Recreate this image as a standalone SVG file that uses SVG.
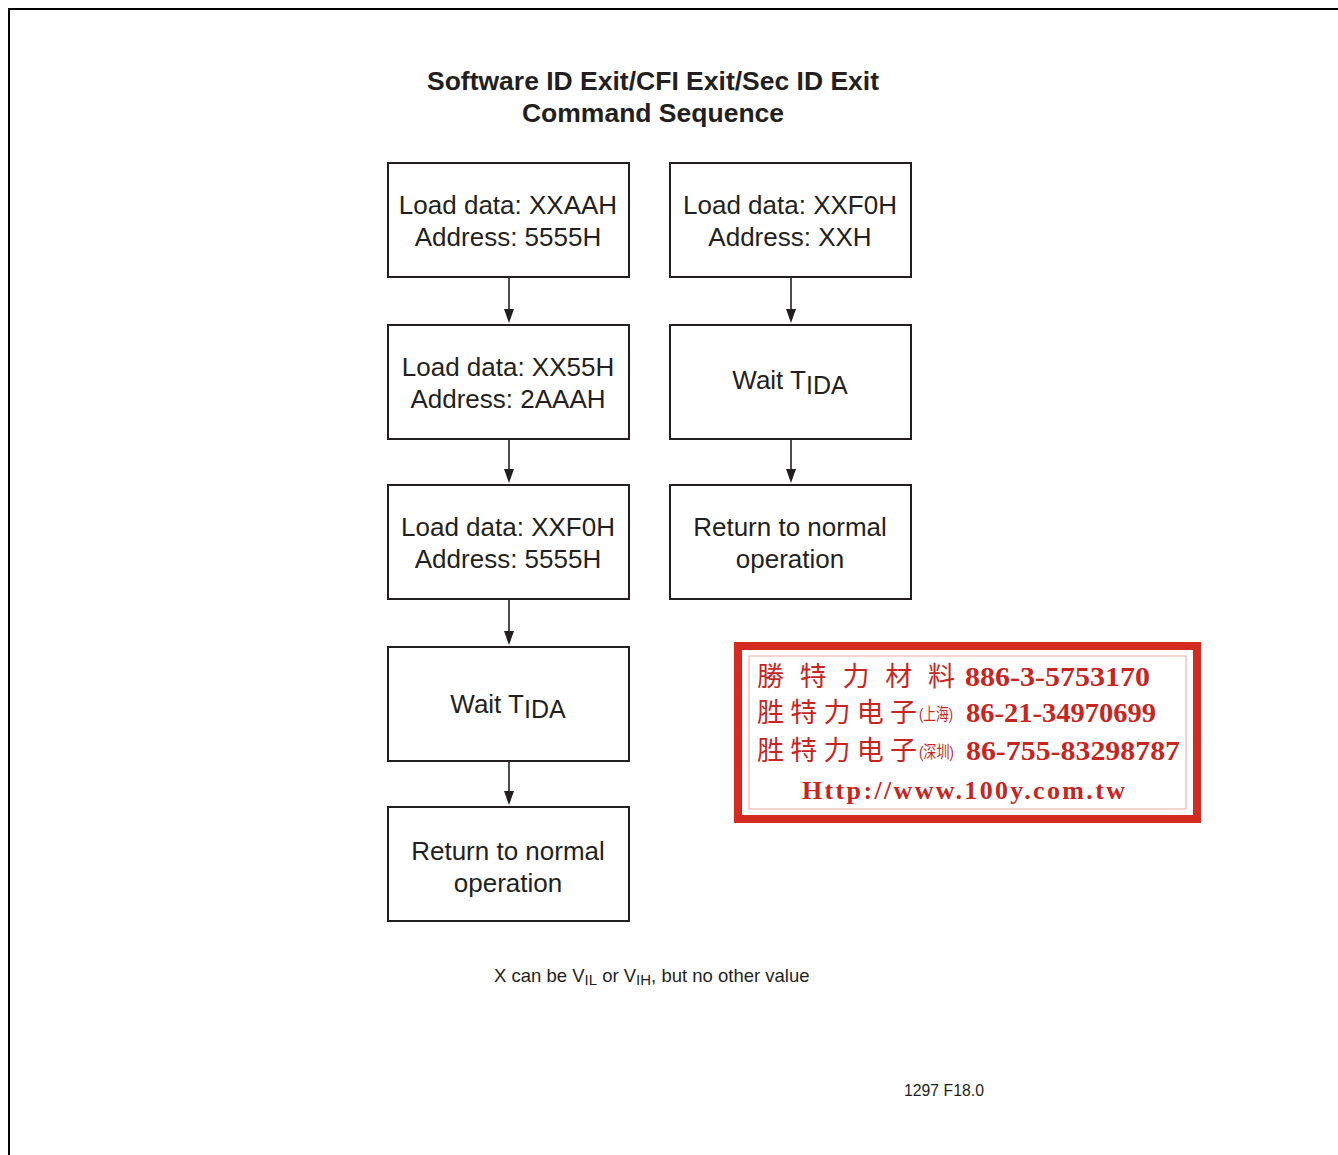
<svg xmlns="http://www.w3.org/2000/svg" width="1338" height="1155" viewBox="0 0 1338 1155">
<defs>
<style>
.box{fill:#fff;stroke:#231f20;stroke-width:2}
.t{font-family:"Liberation Sans",Arial,sans-serif;font-size:26px;fill:#231f20;text-anchor:middle}
.title{font-family:"Liberation Sans",Arial,sans-serif;font-size:26.5px;font-weight:bold;fill:#231f20;text-anchor:middle}
.conn{stroke:#231f20;stroke-width:1.6;fill:none}
.head{fill:#231f20}
.cjk{font-family:"Noto Sans CJK TC","Noto Sans CJK SC",sans-serif;font-size:27px;fill:#c8251f}
.sm{font-family:"Liberation Sans","Noto Sans CJK SC",sans-serif;font-size:17px;fill:#c8251f}
.num{font-family:"Liberation Serif","Times New Roman",serif;font-weight:bold;font-size:27px;fill:#c8251f}
.url{font-family:"Liberation Serif","Times New Roman",serif;font-weight:bold;font-size:26px;fill:#c8251f}
.note{font-family:"Liberation Sans",Arial,sans-serif;font-size:18.5px;fill:#231f20}
.code{font-family:"Liberation Sans",Arial,sans-serif;font-size:15.8px;fill:#231f20}
</style>
</defs>
<rect width="1338" height="1155" fill="#fff"/>
<path d="M9,1155 L9,9 L1338,9" fill="none" stroke="#000" stroke-width="2"/>
<g id="title">
<text class="title" x="653" y="90">Software ID Exit/CFI Exit/Sec ID Exit</text>
<text class="title" x="653" y="122">Command Sequence</text>
</g>
<g id="connectors">
<line class="conn" x1="509" y1="278" x2="509" y2="311"/>
<path class="head" d="M504,309 L514,309 L509,323 Z"/>
<line class="conn" x1="509" y1="440" x2="509" y2="471"/>
<path class="head" d="M504,469 L514,469 L509,483 Z"/>
<line class="conn" x1="509" y1="600" x2="509" y2="633"/>
<path class="head" d="M504,631 L514,631 L509,645 Z"/>
<line class="conn" x1="509" y1="762" x2="509" y2="793"/>
<path class="head" d="M504,791 L514,791 L509,805 Z"/>
<line class="conn" x1="791" y1="278" x2="791" y2="311"/>
<path class="head" d="M786,309 L796,309 L791,323 Z"/>
<line class="conn" x1="791" y1="440" x2="791" y2="471"/>
<path class="head" d="M786,469 L796,469 L791,483 Z"/>
</g>
<g id="n1">
<rect class="box" x="388" y="163" width="241" height="114"/>
<text class="t" x="508" y="214">Load data: XXAAH</text>
<text class="t" x="508" y="246">Address: 5555H</text>
</g>
<g id="n2">
<rect class="box" x="388" y="325" width="241" height="114"/>
<text class="t" x="508" y="376">Load data: XX55H</text>
<text class="t" x="508" y="408">Address: 2AAAH</text>
</g>
<g id="n3">
<rect class="box" x="388" y="485" width="241" height="114"/>
<text class="t" x="508" y="536">Load data: XXF0H</text>
<text class="t" x="508" y="568">Address: 5555H</text>
</g>
<g id="n4">
<rect class="box" x="388" y="647" width="241" height="114"/>
<text class="t" x="508" y="713">Wait T<tspan font-size="25" dy="5">IDA</tspan></text>
</g>
<g id="n5">
<rect class="box" x="388" y="807" width="241" height="114"/>
<text class="t" x="508" y="860">Return to normal</text>
<text class="t" x="508" y="892">operation</text>
</g>
<g id="n6">
<rect class="box" x="670" y="163" width="241" height="114"/>
<text class="t" x="790" y="214">Load data: XXF0H</text>
<text class="t" x="790" y="246">Address: XXH</text>
</g>
<g id="n7">
<rect class="box" x="670" y="325" width="241" height="114"/>
<text class="t" x="790" y="389">Wait T<tspan font-size="25" dy="5">IDA</tspan></text>
</g>
<g id="n8">
<rect class="box" x="670" y="485" width="241" height="114"/>
<text class="t" x="790" y="536">Return to normal</text>
<text class="t" x="790" y="568">operation</text>
</g>
<g id="stamp">
<rect x="738" y="646" width="459" height="173" fill="#fff" stroke="#d42a20" stroke-width="8"/>
<rect x="749" y="656" width="437" height="153" fill="none" stroke="#e9a9a4" stroke-width="1"/>
<text class="cjk" x="757" y="686" textLength="198" lengthAdjust="spacing">勝特力材料</text>
<text class="num" x="965" y="686" textLength="185" lengthAdjust="spacingAndGlyphs">886-3-5753170</text>
<text class="cjk" x="757" y="722" textLength="160" lengthAdjust="spacing">胜特力电子</text>
<text class="sm" x="919" y="720" textLength="34" lengthAdjust="spacingAndGlyphs">(上海)</text>
<text class="num" x="966" y="722" textLength="190" lengthAdjust="spacingAndGlyphs">86-21-34970699</text>
<text class="cjk" x="757" y="760" textLength="160" lengthAdjust="spacing">胜特力电子</text>
<text class="sm" x="919" y="758" textLength="35" lengthAdjust="spacingAndGlyphs">(深圳)</text>
<text class="num" x="966" y="760" textLength="214" lengthAdjust="spacingAndGlyphs">86-755-83298787</text>
<text class="url" x="802" y="799" textLength="323" lengthAdjust="spacing">Http://www.100y.com.tw</text>
</g>
<g id="footnote">
<text class="note" x="494" y="982">X can be V<tspan font-size="15" dy="3">IL</tspan><tspan dy="-3"> or V</tspan><tspan font-size="15" dy="3">IH</tspan><tspan dy="-3">, but no other value</tspan></text>
<text class="code" x="904" y="1096">1297 F18.0</text>
</g>
</svg>
